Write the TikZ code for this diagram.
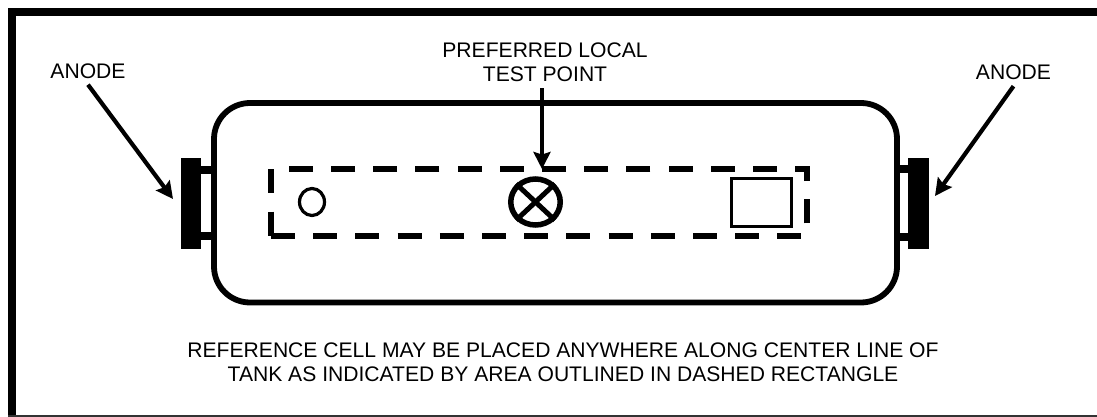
\documentclass[tikz,border=0pt]{standalone}
\usepackage{fontspec}
\setmainfont{Liberation Sans}
\usetikzlibrary{arrows.meta,shapes.geometric}
\tikzset{
  px/.style={x=1pt,y=-1pt},
  tank/.style={line width=5.8pt,black,rounded corners=36pt},
  stud/.style={line width=8pt,black},
  dashbox/.style={line width=6pt,black,dash pattern=on 24pt off 18.2pt},
  lead/.style={line width=4.2pt,black,-{Stealth[length=17pt,width=17pt,inset=2.5pt]}},
  lbl/.style={font=\fontsize{21.1pt}{24pt}\selectfont,text=black,align=center,inner xsep=2pt,inner ysep=6pt},
}
\begin{document}
\begin{tikzpicture}[px]
\useasboundingbox (0,0) rectangle (1097,417);
\fill[white] (0,0) rectangle (1097,417);
% frame
\fill[black] (8,8) rectangle (1097,16);
\fill[black] (8,8) rectangle (16,417);
\fill[black!80] (8,415) rectangle (1097,416.5);
% tank
\draw[tank] (214,103) rectangle (897,302.5);
% studs and anodes
\draw[stud] (201,170) -- (212,170);
\draw[stud] (201,236) -- (212,236);
\draw[stud] (897,169) -- (908,169);
\draw[stud] (897,236.5) -- (908,236.5);
\fill[black] (181,158) rectangle (201,249);
\fill[black] (908,157.5) rectangle (929,248.5);
% dashed area
\draw[dashbox] (271,236) -- (807,236) -- (807,169) -- (271,169) -- (271,236);
% symbols
\node[draw,line width=3.2pt,ellipse,minimum width=25pt,minimum height=27pt,inner sep=0pt] (small) at (312,202) {};
\node[draw,line width=5.5pt,ellipse,minimum width=49.5pt,minimum height=46pt,inner sep=0pt] (tp) at (535.5,202) {};
\draw[line width=5pt] (tp.north west) -- (tp.south east);
\draw[line width=5pt] (tp.north east) -- (tp.south west);
\node[draw,line width=3.2pt,minimum width=60pt,minimum height=48pt,inner sep=0pt] (gauge) at (761.5,202.5) {};
% labels
\node[lbl] (a1) at (88,71) {ANODE};
\node[lbl] (a2) at (1013.5,72.5) {ANODE};
\node[lbl] (pt) at (545,62.5) {PREFERRED LOCAL\\TEST POINT};
\node[lbl] (note) at (563,362.5) {REFERENCE CELL MAY BE PLACED ANYWHERE ALONG CENTER LINE OF\\TANK AS INDICATED BY AREA OUTLINED IN DASHED RECTANGLE};
% leaders
\coordinate (a1e) at (173,199);
\coordinate (a2e) at (935,196);
\coordinate (pte) at (542,169);
\draw[lead] (a1.south) -- (a1e);
\draw[lead] (a2.south) -- (a2e);
\draw[lead] (pt.south -| pte) -- (pte);
\end{tikzpicture}
\end{document}
